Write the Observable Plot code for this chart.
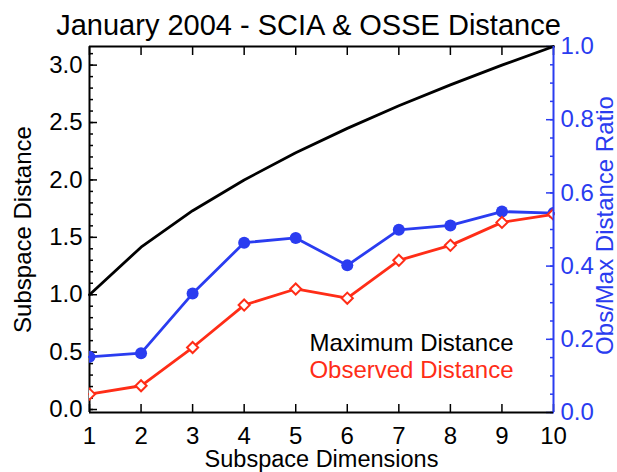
<!DOCTYPE html>
<html><head><meta charset="utf-8">
<script src="https://cdn.jsdelivr.net/npm/d3@7"></script>
<script src="https://cdn.jsdelivr.net/npm/@observablehq/plot@0.6"></script>
<style>body{margin:0;background:#fff} svg{display:block}</style>
</head><body><div id="chart"></div>
<script>
const dims = [1, 2, 3, 4, 5, 6, 7, 8, 9, 10];
const maxDist = [1.000, 1.414, 1.732, 2.000, 2.236, 2.449, 2.646, 2.828, 3.000, 3.162];
const obsDist = [0.134, 0.207, 0.54, 0.91, 1.05, 0.97, 1.30, 1.43, 1.63, 1.70];
const ratio = [0.152, 0.162, 0.325, 0.464, 0.477, 0.402, 0.499, 0.511, 0.549, 0.545];
const leftTicks = [0, 0.5, 1.0, 1.5, 2.0, 2.5, 3.0];
const rightTicks = [0, 0.2, 0.4, 0.6, 0.8, 1.0];
const titleText = "January 2004 - SCIA & OSSE Distance";
const legendLabels = ["Maximum Distance", "Observed Distance"];

const Y0 = -0.026, Y1 = 3.1623;
const toLeft = r => Y0 + r * (Y1 - Y0);
const toRatio = v => (v - Y0) / (Y1 - Y0);
const BLUE = "#2a3cf0", RED = "#ff2d17";

const rows = dims.map((d, i) => ({d, max: maxDist[i], obs: obsDist[i], r: toLeft(ratio[i])}));
const leftMinor = d3.range(0, 3.16, 0.1);
const rightMinor = d3.range(0, 1.001, 0.05).map(toLeft);
const rightMajor = rightTicks.map(toLeft);

const chart = Plot.plot({
  width: 617, height: 472,
  marginLeft: 89, marginRight: 64, marginTop: 46, marginBottom: 60,
  style: {fontFamily: "'Liberation Sans', Arial, Helvetica, sans-serif", fontSize: "24px", color: "black", background: "white"},
  x: {domain: [1, 10]},
  y: {domain: [Y0, Y1]},
  marks: [
    // ticks (inward)
    Plot.axisY(leftMinor, {anchor: "left", tickSize: -4, strokeWidth: 1.5, tickFormat: () => "", label: null}),
    Plot.axisY(leftTicks, {anchor: "left", tickSize: -8, strokeWidth: 1.5, tickFormat: () => "", label: null}),
    Plot.axisY(leftTicks, {anchor: "left", tickSize: 0, tickPadding: 7, fontSize: 24, tickFormat: d3.format(".1f"), label: null}),
    Plot.axisY(rightMinor, {anchor: "right", tickSize: -4, strokeWidth: 1.5, stroke: BLUE, tickFormat: () => "", label: null}),
    Plot.axisY(rightMajor, {anchor: "right", tickSize: -8, strokeWidth: 1.5, stroke: BLUE, tickFormat: () => "", label: null}),
    Plot.axisY(rightMajor, {anchor: "right", tickSize: 0, tickPadding: 7, fontSize: 24, fill: BLUE, tickFormat: d => toRatio(d).toFixed(1), label: null}),
    Plot.axisX(dims, {anchor: "bottom", tickSize: -8, strokeWidth: 1.5, tickFormat: () => "", label: null}),
    Plot.axisX(dims, {anchor: "top", tickSize: -8, strokeWidth: 1.5, tickFormat: () => "", label: null}),
    Plot.axisX(dims, {anchor: "bottom", tickSize: 0, tickPadding: 14, fontSize: 24, tickFormat: d3.format("d"), label: null}),
    // frame
    Plot.ruleY([Y0], {stroke: "black", strokeWidth: 2}),
    Plot.ruleY([Y1], {stroke: "black", strokeWidth: 2}),
    Plot.ruleX([1], {stroke: "black", strokeWidth: 2}),
    // data
    Plot.line(rows, {x: "d", y: "max", stroke: "black", strokeWidth: 2.8}),
    Plot.line(rows, {x: "d", y: "r", stroke: BLUE, strokeWidth: 2.8}),
    Plot.dot(rows, {x: "d", y: "r", r: 6, fill: BLUE, stroke: "none", clip: true}),
    Plot.line(rows, {x: "d", y: "obs", stroke: RED, strokeWidth: 2.8}),
    Plot.dot(rows, {x: "d", y: "obs", r: 5, symbol: "diamond2", fill: "white", stroke: RED, strokeWidth: 2, clip: true}),
    Plot.ruleX([10], {stroke: BLUE, strokeWidth: 2}),
    // texts
    Plot.text([titleText], {frameAnchor: "top", lineAnchor: "middle", textAnchor: "middle", dx: -13, dy: -21, fontSize: 29, fill: "black"}),
    Plot.text(["Subspace Dimensions"], {frameAnchor: "bottom", lineAnchor: "middle", textAnchor: "middle", dy: 47, fontSize: 23.5, fill: "black"}),
    Plot.text(["Subspace Distance"], {frameAnchor: "left", lineAnchor: "middle", textAnchor: "middle", rotate: -90, dx: -66, fontSize: 24, fill: "black"}),
    Plot.text(["Obs/Max Distance Ratio"], {frameAnchor: "right", lineAnchor: "middle", textAnchor: "middle", rotate: -90, dx: 52, dy: -4, fontSize: 24, fill: BLUE}),
    Plot.text([legendLabels[0]], {frameAnchor: "bottom-right", lineAnchor: "middle", textAnchor: "end", dx: -40, dy: -68.7, fontSize: 24, fill: "black"}),
    Plot.text([legendLabels[1]], {frameAnchor: "bottom-right", lineAnchor: "middle", textAnchor: "end", dx: -40, dy: -42.4, fontSize: 24, fill: RED})
  ]
});
document.getElementById("chart").appendChild(chart);
</script>
</body></html>
